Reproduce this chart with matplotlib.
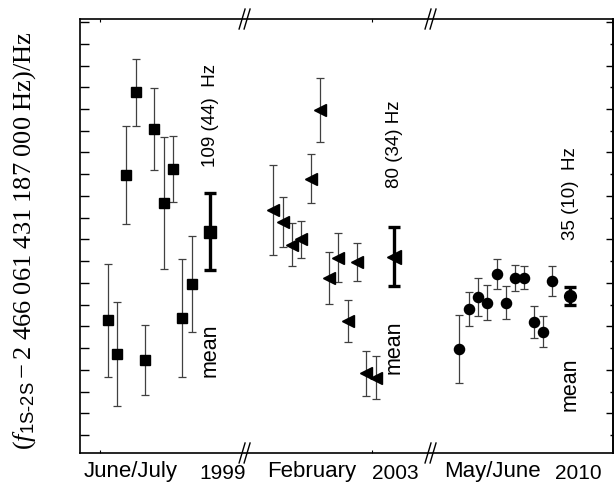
import matplotlib
matplotlib.use('Agg')
import matplotlib.pyplot as plt
from matplotlib.ticker import MultipleLocator

plt.rcParams['font.family'] = ['Liberation Sans', 'DejaVu Sans']
plt.rcParams['mathtext.fontset'] = 'custom'
plt.rcParams['mathtext.rm'] = 'Liberation Serif'
plt.rcParams['mathtext.it'] = 'Liberation Serif:italic'
plt.rcParams['mathtext.sf'] = 'Liberation Sans'

# June/July 1999 (squares)
x_1999 = [3, 4, 5, 6, 7, 8, 9, 10, 11, 12]
f_1999 = [7, -32, 174, 269, -39, 227, 142, 181, 10, 49]
e_1999 = [65, 60, 56, 39, 40, 47, 76, 38, 68, 55]

# February 2003 (triangles)
x_2003 = [20.8, 21.8, 22.8, 23.8, 24.8, 25.8, 26.8, 27.8, 28.8, 29.8, 30.8, 31.8]
f_2003 = [134, 120, 94, 100, 170, 249, 56, 79, 6, 74, -54, -59]
e_2003 = [52, 29, 25, 21, 28, 37, 30, 28, 24, 22, 26, 25]

# May/June 2010 (circles)
x_2010 = [40.8, 41.8, 42.8, 43.8, 44.8, 45.8, 46.8, 47.8, 48.8, 49.8, 50.8]
f_2010 = [-26, 20, 34, 27, 60, 27, 56, 56, 5, -6, 52]
e_2010 = [39, 20, 22, 20, 17, 19, 15, 13, 18, 18, 17]

# means
mean_x = [14.0, 33.8, 52.7]
mean_f = [109, 80, 35]
mean_e = [44, 34, 10]
mean_txt = ['109 (44)  Hz', '80 (34) Hz', '35 (10)  Hz']
mean_txt_y = [243, 210, 153]
mean_word_y = [-28, -24, -67]
markers = ['s', '<', 'o']

month_labels = ['June/July', 'February', 'May/June']
month_x = [5.4, 24.9, 44.4]
year_labels = ['1999', '2003', '2010']
year_x = [15.3, 33.9, 53.6]

fig = plt.figure(figsize=(6.14, 4.98), dpi=100)
ax = fig.add_axes([0.1303, 0.0904, 0.8677, 0.8714])

ebar = dict(fmt='none', ecolor='0.25', elinewidth=0.9, capsize=3, capthick=0.9, zorder=2)
ax.errorbar(x_1999, f_1999, yerr=e_1999, **ebar)
ax.errorbar(x_2003, f_2003, yerr=e_2003, **ebar)
ax.errorbar(x_2010, f_2010, yerr=e_2010, **ebar)
ax.plot(x_1999, f_1999, 's', color='black', ms=6.5, zorder=3)
ax.plot(x_2003, f_2003, '<', color='black', ms=9, zorder=3)
ax.plot(x_2010, f_2010, 'o', color='black', ms=7.3, zorder=3)

msz = [8, 10, 8.5]
for i in range(3):
    ax.errorbar(mean_x[i], mean_f[i], yerr=mean_e[i], fmt=markers[i], color='black',
                ms=msz[i], elinewidth=2.4, capsize=4, capthick=2.4, zorder=4)
    ax.text(mean_x[i], mean_txt_y[i], mean_txt[i], rotation=90,
            ha='center', va='center', fontsize=13.5)
    ax.text(mean_x[i], mean_word_y[i], 'mean', rotation=90,
            ha='center', va='center', fontsize=15.5)

ax.set_xlim(0, 57.3)
ax.set_ylim(-145.7, 353.5)

# y ticks: left every 25, right major 50 / minor 25
ax.yaxis.set_major_locator(MultipleLocator(25))
ax.tick_params(axis='y', which='major', direction='in', length=6.5, width=1,
               left=True, right=False, labelleft=False)
sec = ax.secondary_yaxis('right')
sec.yaxis.set_major_locator(MultipleLocator(50))
sec.yaxis.set_minor_locator(MultipleLocator(25))
sec.tick_params(which='major', direction='in', length=5, width=1, labelright=False)
sec.tick_params(which='minor', direction='in', length=2, width=1)
sec.spines['right'].set_linewidth(1.2)

ax.set_xticks([2.15, 31.4])
ax.tick_params(axis='x', direction='in', length=2, width=0.8, top=True, labelbottom=False)
for s in ax.spines.values():
    s.set_linewidth(1.2)

# break marks on top and bottom spines
for bx in [17.7, 37.7]:
    fx = bx / 57.3
    for yb in [0, 1]:
        for dx in [-0.0047, 0.0047]:
            ax.plot([fx + dx - 0.0056, fx + dx + 0.0056], [yb - 0.023, yb + 0.023],
                    transform=ax.transAxes, color='black', lw=1, clip_on=False, zorder=5)

for i in range(3):
    ax.text(month_x[i], -167, month_labels[i], ha='center', va='center', fontsize=16)
    ax.text(year_x[i], -169, year_labels[i], ha='center', va='center', fontsize=15)

fig.text(25 / 614, 1 - 241 / 498,
         r'$(f_{\mathsf{1S\text{-}2S}} - 2\ 466\ 061\ 431\ 187\ 000\ \mathrm{Hz})/\mathrm{Hz}$',
         rotation=90, ha='center', va='center', fontsize=19)

fig.savefig('out.png', dpi=100)
